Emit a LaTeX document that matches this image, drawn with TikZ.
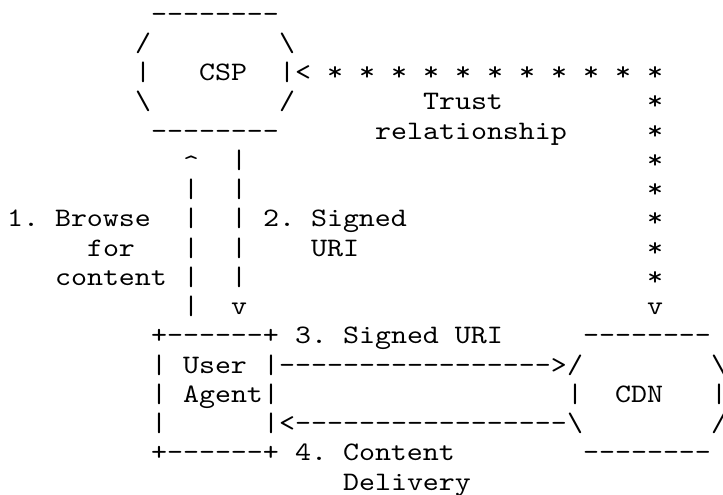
\documentclass[tikz,border=0pt]{standalone}
\usepackage{fontspec}
\setmonofont{lmmono10-regular}[Extension=.otf, FakeStretch=1.1429]
\usepackage{tikz}
\frenchspacing
\tikzset{cellgrid/.style={x=16pt, y=-29.25pt}}
\tikzset{ascii/.style={font=\ttfamily\fontsize{26.66pt}{29.25pt}\selectfont, inner sep=0pt, outer sep=0pt, anchor=base}}
% octagon box drawn in characters: #1 name, #2 left column, #3 top row, #4 label column, #5 label
\newcommand\asciioct[5]{
			\node at ({#2+4.5},{#3}) {--------};
			\node at ({#2},{#3+1}) {/};
			\node at ({#2+9},{#3+1}) {\textbackslash};
			\node at ({#2},{#3+2}) {\textbar};
			\node (#1) at ({#4},{#3+2}) {#5};
			\node at ({#2+9},{#3+2}) {\textbar};
			\node at ({#2},{#3+3}) {\textbackslash};
			\node at ({#2+9},{#3+3}) {/};
			\node at ({#2+4.5},{#3+4}) {--------};
			}

\begin{document}
\begin{tikzpicture}[cellgrid, every node/.style={ascii}]
		\useasboundingbox (-0.9375,-0.759) rectangle (44.25,16.164);
		\asciioct{csp}{8}{0}{13}{CSP}
		\asciioct{cdn}{35}{11}{39}{CDN}
		% user agent box
		\node at (12.5,11) {+------+};
		\node at (12.5,15) {+------+};
		\foreach \r in {12,13,14} {
			\node at (9,\r) {\textbar};
			\node at (16,\r) {\textbar};
		}
		\node (ua) at (12.5,12) {User};
		\node (ua2) at (13,13) {Agent};
		% trust relationship
		\node (trustin) at (18,2) {<};
		\foreach \c in {20,22,...,40} \node at (\c,2) {*};
		\foreach \r in {3,...,9} \node at (40,\r) {*};
		\node (trustout) at (40,10) {v};
		\node (trust) at (28,3) {Trust};
		\node at (28.5,4) {relationship};
		% steps 1 and 2
		\node (browsetip) at (11,5) {\raisebox{-4pt}{\textasciicircum}};
		\foreach \r in {6,...,10} \node at (11,\r) {\textbar};
		\foreach \r in {5,...,9} \node at (14,\r) {\textbar};
		\node (signedtip) at (14,10) {v};
		\node (browse) at (4,7) {1. Browse};
		\node at (6,8) {for};
		\node at (6,9) {content};
		\node (signed) at (20,7) {2. Signed};
		\node at (20,8) {URI};
		% steps 3 and 4
		\node (request) at (25.5,12) {----------------->};
		\node (delivery) at (25.5,14) {<-----------------};
		\node at (24,11) {3. Signed URI};
		\node at (22.5,15) {4. Content};
		\node at (24.5,16) {Delivery};
	\end{tikzpicture}
\end{document}
